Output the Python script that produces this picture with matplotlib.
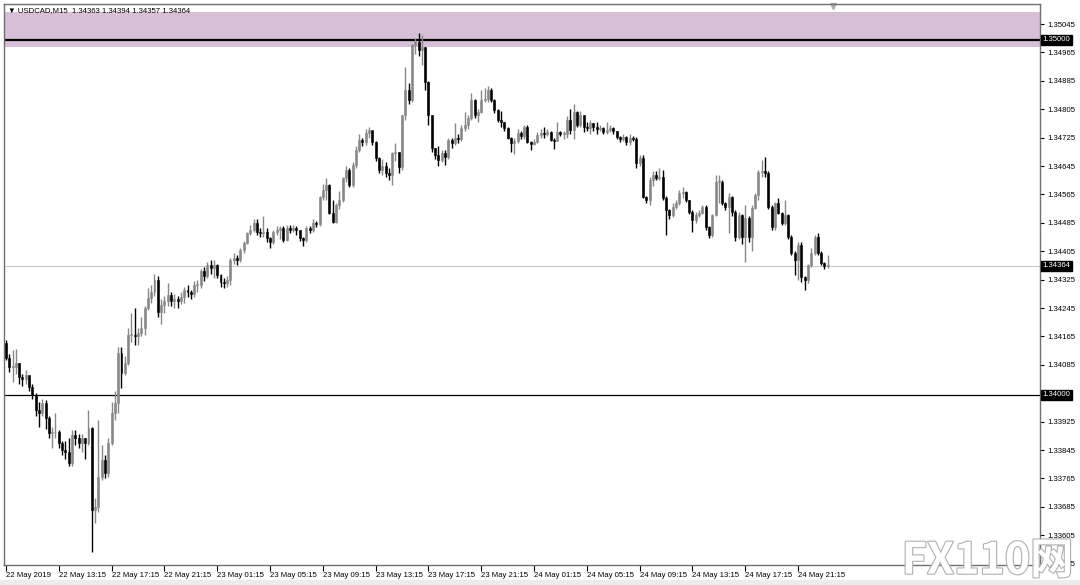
import matplotlib.pyplot as plt
import matplotlib.patheffects as pe
from matplotlib.patches import Rectangle
import numpy as np

# USDCAD M15, values in pips above 1.34000
base = 1.34000
first_open = 14.6
close_pips = [
    10.4, 7.9, 7.9, 9.0, 5.0, 4.5, 5.5, 2.3, 0.0, -4.2,
    -5.0, -2.3, -6.5, -10.7, -10.5, -10.5, -13.5, -15.5, -16.0, -19.2,
    -11.3, -12.0, -13.5, -12.0, -13.5, -9.3, -32.4, -31.5, -23.1, -18.3,
    -22.0, -13.5, -5.1, -2.3, 11.8, 6.2, 9.0, 16.9, 17.0, 16.5,
    17.5, 19.0, 24.5, 27.3, 29.0, 32.4, 23.4, 25.4, 26.5, 28.2,
    26.5, 27.0, 26.5, 27.5, 29.5, 29.0, 28.5, 31.0, 31.0, 35.0,
    33.5, 36.5, 35.8, 36.6, 33.8, 31.8, 31.5, 32.4, 38.0, 38.6,
    38.0, 40.8, 42.8, 45.6, 46.5, 48.4, 46.0, 45.7, 46.0, 44.2,
    43.1, 45.9, 46.5, 47.0, 43.7, 47.0, 46.5, 47.0, 46.5, 44.2,
    43.7, 47.0, 46.5, 48.4, 48.2, 55.8, 57.7, 59.2, 51.3, 48.7,
    53.5, 55.0, 61.0, 63.4, 59.2, 64.8, 69.0, 71.8, 71.3, 73.8,
    74.6, 71.3, 66.8, 63.4, 64.5, 62.5, 62.0, 68.2, 68.5, 64.2,
    78.9, 86.0, 83.1, 98.6, 99.4, 97.2, 98.0, 88.2, 78.9, 69.6,
    67.6, 66.2, 68.2, 67.0, 71.8, 71.0, 72.4, 72.2, 75.2, 76.1,
    78.0, 83.1, 78.9, 79.7, 83.1, 83.5, 86.0, 83.1, 80.3, 77.5,
    76.9, 75.2, 72.4, 71.0, 71.5, 73.8, 73.0, 75.5, 71.3, 70.7,
    71.3, 73.2, 73.8, 73.5, 74.0, 71.8, 71.5, 74.0, 73.5, 73.5,
    77.5, 74.6, 79.7, 76.1, 78.9, 75.5, 75.2, 76.6, 75.5, 75.0,
    75.2, 74.0, 74.6, 75.2, 74.3, 72.7, 72.2, 72.7, 71.3, 72.5,
    72.2, 65.4, 66.8, 55.8, 54.9, 60.6, 62.0, 61.1, 61.4, 55.5,
    52.1, 50.7, 53.0, 54.1, 56.9, 57.2, 54.9, 51.5, 49.3, 50.7,
    51.3, 53.0, 47.3, 45.1, 50.7, 60.0, 60.0, 54.1, 53.0, 55.8,
    51.5, 44.5, 50.7, 44.5, 49.9, 44.5, 52.7, 56.3, 62.8, 63.0,
    62.5, 53.0, 47.3, 54.1, 51.3, 48.4, 50.7, 44.5, 40.0, 38.0,
    42.3, 33.2, 32.4, 36.6, 40.0, 44.5, 40.0, 37.2, 36.3, 36.4,
]
high_pips = [
    15.5, 11.5, 12.7, 13.0, 9.0, 6.0, 7.0, 5.0, 3.0, 0.5,
    -2.0, -1.0, -1.5, -6.0, -9.0, -5.0, -10.0, -13.0, -13.0, -12.0,
    -10.0, -10.0, -11.0, -11.0, -12.0, -4.2, -9.0, -29.0, -7.0, -14.0,
    -17.0, -12.0, -2.0, 1.0, 13.5, 13.5, 11.0, 19.0, 23.0, 24.5,
    19.0, 22.0, 25.0, 30.0, 31.0, 34.0, 33.5, 27.0, 28.0, 31.5,
    29.0, 28.5, 28.0, 29.0, 30.5, 31.0, 29.5, 32.0, 32.5, 35.5,
    36.0, 37.5, 38.0, 38.0, 37.0, 34.0, 33.0, 33.5, 38.5, 40.0,
    39.5, 41.5, 43.5, 46.0, 48.0, 49.5, 49.5, 47.0, 50.5, 47.0,
    44.5, 46.5, 47.5, 47.5, 47.5, 48.0, 48.0, 48.0, 47.5, 46.5,
    44.5, 47.5, 47.5, 49.5, 49.0, 56.0, 59.5, 61.0, 59.5, 55.0,
    54.0, 57.5, 61.5, 64.5, 64.0, 65.5, 70.0, 73.5, 72.5, 75.0,
    75.5, 74.5, 71.5, 67.0, 66.5, 65.5, 64.0, 68.5, 71.0, 68.5,
    79.0, 92.4, 88.0, 99.0, 100.5, 102.0, 101.5, 98.0, 88.5, 79.0,
    69.5, 70.0, 69.0, 69.0, 72.5, 72.5, 76.5, 73.5, 76.0, 79.8,
    79.0, 85.0, 83.5, 80.5, 86.0, 86.5, 87.0, 86.5, 83.5, 80.5,
    80.0, 77.0, 75.5, 72.8, 72.5, 75.0, 74.5, 76.0, 76.0, 71.5,
    72.0, 74.0, 75.0, 75.5, 75.0, 74.5, 72.5, 77.0, 74.5, 74.5,
    78.5, 80.5, 82.0, 80.0, 80.0, 79.0, 77.0, 77.5, 76.5, 77.0,
    76.0, 75.5, 77.0, 76.0, 75.5, 74.5, 73.0, 73.5, 73.0, 73.5,
    73.0, 72.8, 67.5, 67.5, 56.0, 61.5, 63.0, 63.0, 64.0, 63.5,
    56.0, 52.5, 54.0, 55.0, 57.7, 58.5, 57.5, 55.0, 52.0, 51.5,
    52.0, 53.5, 53.5, 47.5, 51.0, 62.0, 62.0, 60.5, 54.5, 57.0,
    56.0, 52.0, 51.5, 51.0, 53.5, 50.5, 53.5, 57.0, 63.5, 66.2,
    67.0, 63.0, 53.5, 54.5, 55.5, 51.5, 55.0, 51.0, 45.0, 40.5,
    43.0, 43.0, 33.5, 37.0, 41.5, 45.0, 45.5, 40.5, 37.5, 39.4,
]
low_pips = [
    9.9, 6.5, 3.6, 6.0, 3.0, 2.5, 3.0, 1.0, -1.0, -6.0,
    -9.0, -6.0, -9.5, -12.0, -15.0, -12.0, -15.0, -17.0, -18.0, -20.0,
    -20.0, -14.0, -15.0, -16.0, -18.0, -14.0, -44.2, -36.0, -33.0, -24.0,
    -23.5, -23.0, -14.0, -7.0, -5.0, 2.0, 5.5, 8.5, 15.0, 14.0,
    14.0, 16.5, 17.0, 24.0, 26.0, 28.0, 22.0, 20.0, 23.0, 25.0,
    25.0, 24.5, 24.5, 25.5, 26.0, 27.5, 27.0, 27.5, 29.0, 30.0,
    32.0, 33.0, 34.0, 33.0, 33.0, 30.5, 30.0, 30.5, 31.0, 37.0,
    36.5, 37.5, 40.0, 42.5, 45.0, 46.0, 45.0, 44.5, 44.5, 43.0,
    41.5, 42.5, 45.0, 44.0, 43.0, 43.5, 45.5, 46.0, 45.0, 43.5,
    42.0, 43.0, 45.5, 46.0, 47.3, 47.5, 55.0, 55.0, 51.0, 48.4,
    48.5, 52.5, 54.5, 60.0, 58.5, 58.7, 64.0, 68.5, 70.0, 70.5,
    72.5, 70.5, 66.0, 62.5, 62.0, 61.5, 60.5, 59.2, 66.0, 62.5,
    63.5, 77.5, 82.0, 82.5, 96.0, 95.5, 93.0, 86.0, 76.0, 68.5,
    66.5, 64.5, 65.5, 64.8, 66.5, 69.5, 70.5, 71.0, 71.5, 74.5,
    75.0, 77.5, 78.0, 77.0, 79.5, 82.5, 82.5, 82.5, 79.5, 77.0,
    75.5, 74.5, 72.0, 68.5, 68.0, 71.0, 72.0, 72.0, 71.0, 69.0,
    70.5, 71.0, 72.5, 72.5, 73.0, 71.5, 69.3, 71.5, 73.0, 72.0,
    72.5, 73.5, 72.0, 75.5, 75.5, 74.2, 74.5, 73.5, 74.5, 73.5,
    74.5, 73.5, 73.5, 74.0, 73.5, 72.0, 71.2, 71.5, 70.5, 70.5,
    71.5, 63.9, 64.5, 55.5, 54.0, 53.5, 59.0, 60.5, 60.5, 55.0,
    45.1, 49.5, 50.0, 52.5, 53.5, 55.5, 54.5, 51.0, 45.9, 48.5,
    50.0, 51.0, 46.5, 44.2, 44.5, 50.5, 54.0, 53.5, 52.0, 45.6,
    50.5, 43.3, 44.0, 42.5, 37.5, 43.0, 40.5, 52.5, 55.0, 61.5,
    61.5, 52.5, 46.5, 46.5, 51.0, 48.0, 48.0, 44.0, 39.5, 33.8,
    32.5, 31.8, 29.6, 31.5, 36.0, 39.5, 39.5, 36.5, 35.5, 35.7,
]

time_labels = ["22 May 2019", "22 May 13:15", "22 May 17:15", "22 May 21:15",
               "23 May 01:15", "23 May 05:15", "23 May 09:15", "23 May 13:15",
               "23 May 17:15", "23 May 21:15", "24 May 01:15", "24 May 05:15",
               "24 May 09:15", "24 May 13:15", "24 May 17:15", "24 May 21:15"]
bars_per_label = 16
price_ticks = [1.35045, 1.34965, 1.34885, 1.34805, 1.34725, 1.34645, 1.34565,
               1.34485, 1.34405, 1.34325, 1.34245, 1.34165, 1.34085,
               1.33925, 1.33845, 1.33765, 1.33685, 1.33605, 1.33525]
levels = [1.35000, 1.34000]
bid = 1.34364
zone = (1.34980, 1.35079)
header = "\u25bc USDCAD,M15  1.34363 1.34394 1.34357 1.34364"

c = base + np.array(close_pips) / 1e4
h = base + np.array(high_pips) / 1e4
l = base + np.array(low_pips) / 1e4
o = np.concatenate([[base + first_open / 1e4], c[:-1]])
x = np.arange(len(c))
up = c >= o

plt.rcParams['font.family'] = ['Liberation Sans', 'DejaVu Sans']
fs = 5.6

fig = plt.figure(figsize=(10.8, 5.85), dpi=100)
ax = fig.add_axes([4 / 1080, 20 / 585, 1036 / 1080, 561.5 / 585])

ax.axhspan(zone[0], zone[1], color='#d8bfd8', lw=0, zorder=0)
ax.axhline(bid, color='#c8c8c8', lw=0.8, zorder=1)
ax.axhline(levels[0], color='black', lw=1.6, zorder=1)
ax.axhline(levels[1], color='black', lw=0.9, zorder=1)

cols = np.where(up, '#888888', 'black')
ax.vlines(x, l, h, colors=cols, lw=1, zorder=2)
ax.bar(x, np.maximum(np.abs(c - o), 0.00002), bottom=np.minimum(o, c), width=0.6,
       color=cols, edgecolor=cols, linewidth=0.4, zorder=3)

ax.set_xlim(-0.6, 313.3)
ax.set_ylim(1.335211, 1.351028)

ax.set_xticks(np.arange(len(time_labels)) * bars_per_label)
ax.set_xticklabels(time_labels)
for t in ax.get_xticklabels():
    t.set_horizontalalignment('left')
ax.tick_params(axis='x', length=4, width=0.8, pad=1, labelsize=fs, colors='black')

ax.yaxis.tick_right()
ax.set_yticks(price_ticks)
ax.set_yticklabels([f"{v:.5f}" for v in price_ticks])
ax.tick_params(axis='y', length=3, width=0.8, pad=2, labelsize=fs, colors='black')

for v in levels + [bid]:
    ax.text(1.0025, v, f"{v:.5f}", transform=ax.get_yaxis_transform(), ha='left',
            va='center', color='white', fontsize=fs,
            bbox=dict(boxstyle='square,pad=0.2', fc='black', ec='black'))

for s in ax.spines.values():
    s.set_color('#707070')
    s.set_linewidth(1)

ax.text(0.004, 0.988, header, transform=ax.transAxes, fontsize=fs, va='center', ha='left')
ax.plot([len(c) + 0.5], [0.995], marker='v', color='#b0b0b0', ms=5,
        transform=ax.get_xaxis_transform(), clip_on=False)

fig.patches.append(Rectangle((0, 0), 1, 5 / 585, transform=fig.transFigure,
                             color='#ececec', zorder=-1))
fig.text(0.835, 0.004, "FX110网", fontsize=31, color='white', fontweight='bold',
         family=['Noto Sans CJK SC', 'DejaVu Sans'], ha='left', va='bottom',
         path_effects=[pe.withStroke(linewidth=1.6, foreground='#b0b0b0')])

fig.savefig("out.png", dpi=100)
